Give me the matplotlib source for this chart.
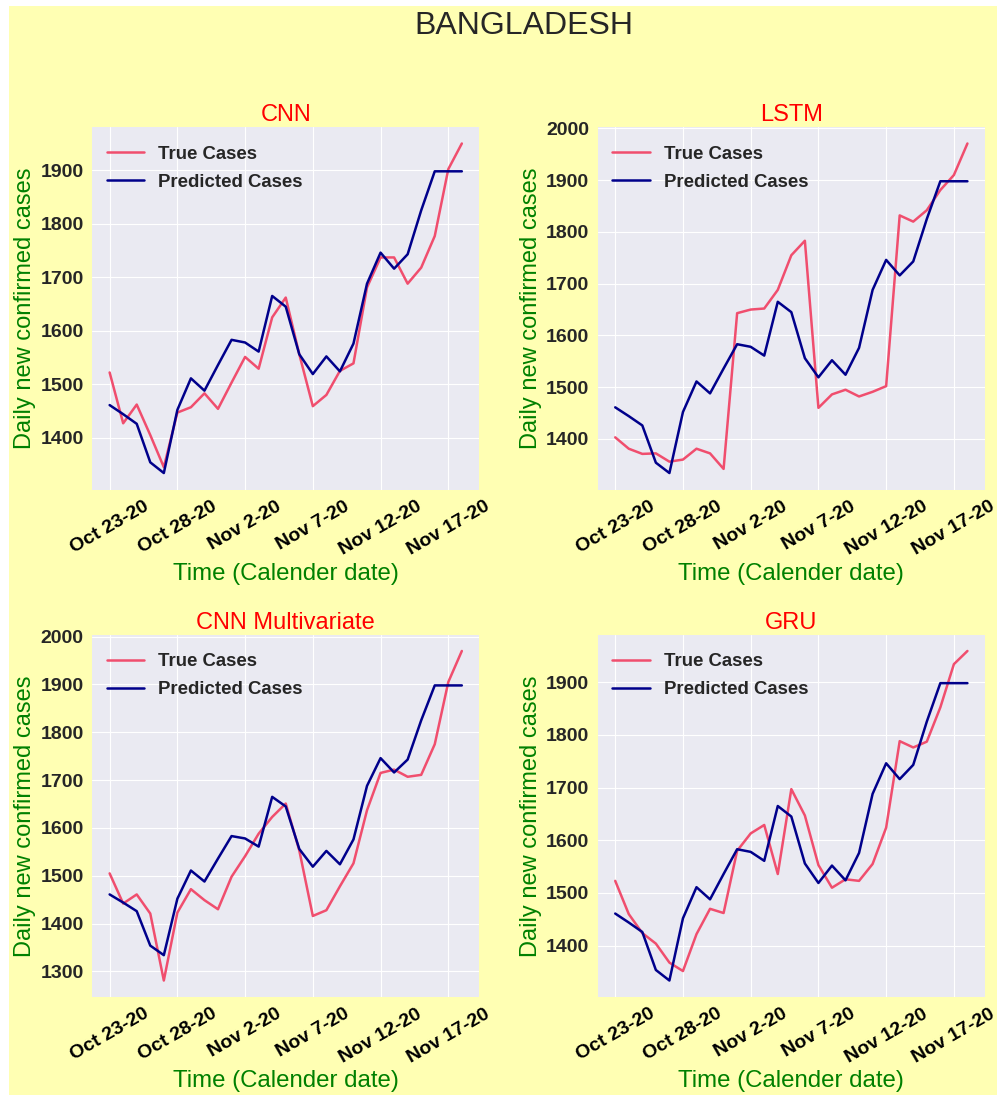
import numpy as np
import pandas as pd
import matplotlib
matplotlib.use("Agg")
import matplotlib.pyplot as plt
from matplotlib.patches import Rectangle

# Daily values, Oct 23 2020 .. Nov 18 2020
dates = pd.date_range("2020-10-23", "2020-11-18", freq="D")
tick_labels = ["Oct 23-20", "Oct 28-20", "Nov 2-20", "Nov 7-20", "Nov 12-20", "Nov 17-20"]

predicted = [1461, 1444, 1426, 1354, 1334, 1452, 1511, 1488, 1536, 1583, 1578, 1561, 1665, 1645,
             1556, 1519, 1552, 1524, 1576, 1688, 1746, 1716, 1743, 1825, 1898, 1898, 1898]

true_cnn = [1522, 1427, 1462, 1405, 1345, 1447, 1457, 1483, 1454, 1503, 1551, 1529, 1625, 1662,
            1556, 1459, 1480, 1525, 1539, 1681, 1737, 1737, 1688, 1718, 1777, 1902, 1950]

true_lstm = [1403, 1381, 1371, 1372, 1356, 1360, 1381, 1372, 1342, 1643, 1650, 1652, 1688, 1755,
             1783, 1460, 1486, 1495, 1482, 1491, 1502, 1832, 1820, 1842, 1881, 1910, 1971]

true_cnn_mv = [1505, 1442, 1461, 1421, 1281, 1423, 1472, 1449, 1430, 1498, 1541, 1588, 1623, 1651,
               1553, 1416, 1428, 1478, 1526, 1637, 1715, 1722, 1707, 1711, 1775, 1905, 1970]

true_gru = [1523, 1460, 1424, 1404, 1368, 1352, 1422, 1470, 1462, 1580, 1613, 1629, 1536, 1697,
            1647, 1553, 1510, 1526, 1523, 1555, 1624, 1788, 1776, 1787, 1852, 1934, 1959]

models = ["CNN", "LSTM", "CNN Multivariate", "GRU"]
true_series = [true_cnn, true_lstm, true_cnn_mv, true_gru]

plt.style.use("seaborn-v0_8-darkgrid")
plt.rcParams["font.family"] = ["Liberation Sans", "DejaVu Sans"]

fig, axes = plt.subplots(2, 2, figsize=(9.97, 10.95), dpi=100)
fig.patch.set_facecolor("white")
fig.patches.append(Rectangle((9 / 997, 0), 1, 1 - 6 / 1095, transform=fig.transFigure,
                             facecolor="#FFFFB3", edgecolor="none", zorder=-10))
fig.subplots_adjust(left=0.0923, right=0.988, top=0.884, bottom=0.0895, wspace=0.305, hspace=0.40)

x = np.arange(len(dates))
for ax, name, tr in zip(axes.flat, models, true_series):
    ax.plot(x, tr, color="#F04E6E", lw=1.8, label="True Cases")
    ax.plot(x, predicted, color="#00008B", lw=1.8, label="Predicted Cases")
    ax.set_title(name, color="red", fontsize=17, pad=4)
    ax.set_xticks(x[::5])
    ax.set_xticklabels(tick_labels, rotation=30, fontsize=14, fontweight="bold", color="black")
    for lab in ax.get_yticklabels():
        lab.set_fontsize(14)
        lab.set_fontweight("bold")
        lab.set_color("#262626")
    ax.tick_params(axis="both", length=0, pad=6)
    ax.set_xlabel("Time (Calender date)", color="green", fontsize=17.3, labelpad=3)
    ax.set_ylabel("Daily new confirmed cases", color="green", fontsize=17, labelpad=3)
    ax.legend(loc="upper left", bbox_to_anchor=(-0.01, 1.0), frameon=False,
              handlelength=2.0, handletextpad=0.75, borderaxespad=0.6, labelspacing=0.6,
              prop={"size": 13.4, "weight": "bold"})

fig.suptitle("BANGLADESH", x=0.525, y=0.99, fontsize=23, color="#262626", va="top")

fig.savefig("out.png", dpi=100, facecolor=fig.get_facecolor())
